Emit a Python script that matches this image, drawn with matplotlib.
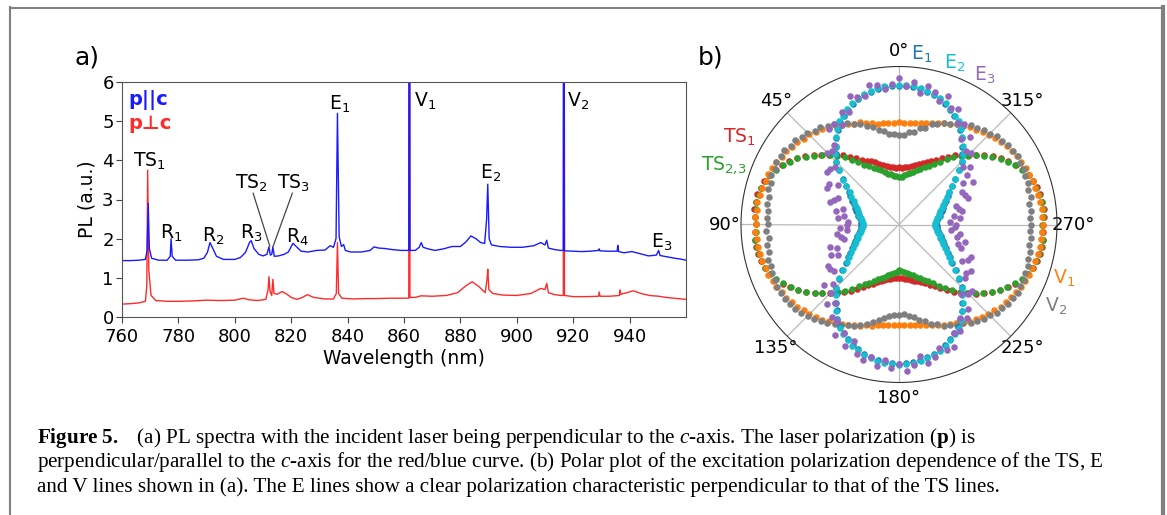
import numpy as np
import matplotlib.pyplot as plt
from matplotlib.lines import Line2D

plt.rcParams['font.family'] = 'DejaVu Sans'
plt.rcParams['mathtext.fontset'] = 'dejavusans'
plt.rcParams['mathtext.rm'] = 'Liberation Serif'
plt.rcParams['mathtext.it'] = 'Liberation Serif:italic'
plt.rcParams['mathtext.bf'] = 'Liberation Serif:bold'

# ---------------- data: PL spectra (a) ----------------
wl_par = [760, 763, 766, 768.3, 768.9, 769.3, 769.7, 770.5, 773, 776, 777.1, 777.4, 777.8, 779,
          783, 787, 789, 790.3, 791.2, 792, 793.5, 796, 800, 802, 803.8, 805.2, 805.8, 806.8,
          808.5, 810, 811.4, 812.1, 812.6, 813.1, 813.5, 814, 815.5, 817.5, 819, 820.6, 821.8,
          823.5, 826, 829, 832, 833.8, 835, 835.9, 836.4, 837, 837.8, 838.6, 839.2, 841, 845,
          848, 849.4, 851, 853, 856, 859, 861.7, 861.9, 862.1, 864, 865.4, 866.1, 866.8, 868.5,
          871, 874, 877, 880, 882, 883.7, 885.5, 887.2, 888.6, 889.3, 889.7, 890.2, 891, 894,
          898, 902, 906, 908.5, 910, 910.6, 911.2, 913.5, 915.6, 916.5, 916.7, 916.9, 920, 923,
          926, 929, 929.2, 929.5, 932, 935.6, 935.8, 936.1, 938, 940.8, 943.5, 946.7, 949.5,
          950.3, 950.8, 953, 956, 958, 960]
pl_par = [1.44, 1.44, 1.45, 1.47, 1.70, 2.90, 1.75, 1.50, 1.45, 1.45, 1.55, 2.00, 1.55, 1.45,
          1.45, 1.46, 1.50, 1.65, 1.90, 1.78, 1.55, 1.47, 1.47, 1.52, 1.65, 1.90, 1.95, 1.75,
          1.60, 1.56, 1.60, 1.79, 1.58, 1.60, 1.79, 1.55, 1.56, 1.60, 1.66, 1.88, 1.80,
          1.68, 1.66, 1.70, 1.71, 1.82, 1.78, 2.00, 5.20, 2.05, 1.80, 1.85, 1.70, 1.66, 1.66,
          1.70, 1.79, 1.76, 1.75, 1.72, 1.70, 1.70, 20.0, 1.70, 1.70, 1.78, 1.90, 1.78, 1.74,
          1.70, 1.74, 1.80, 1.80, 1.92, 2.07, 2.00, 1.90, 1.88, 2.50, 3.39, 2.00, 1.84, 1.80,
          1.78, 1.78, 1.82, 1.90, 1.84, 1.96, 1.76, 1.72, 1.70, 1.70, 20.0, 1.69, 1.68, 1.67,
          1.68, 1.70, 1.74, 1.69, 1.68, 1.68, 1.83, 1.67, 1.64, 1.67, 1.62, 1.56, 1.58,
          1.70, 1.57, 1.54, 1.50, 1.48, 1.45]

wl_perp = [760, 763, 766, 768.3, 768.8, 769.1, 769.5, 770.3, 772, 776, 780, 785, 790, 795, 800,
           803, 805, 808, 811, 811.8, 812.1, 812.5, 813.1, 813.5, 813.9, 815, 816.8, 818.5, 820,
           822, 824, 825.7, 828, 832, 835, 836, 836.4, 836.8, 838, 842, 846, 850, 855, 860,
           861.7, 861.9, 862.1, 864, 866, 870, 875, 879, 882, 884.2, 886.5, 888.8, 889.5, 889.7,
           890.1, 891.5, 895, 900, 905, 908.5, 910, 910.6, 911.2, 913.5, 915.6, 916.5, 916.7,
           916.9, 920, 925, 929, 929.2, 929.5, 933, 936.4, 936.6, 936.9, 939, 941.3, 944, 947,
           950.3, 953, 957, 960]
pl_perp = [0.33, 0.34, 0.36, 0.40, 0.80, 3.75, 1.20, 0.55, 0.42, 0.40, 0.40, 0.41, 0.43, 0.42, 0.43,
           0.48, 0.44, 0.42, 0.45, 0.70, 1.03, 0.65, 0.55, 0.96, 0.60, 0.58, 0.65, 0.58, 0.50,
           0.45, 0.50, 0.57, 0.50, 0.46, 0.46, 0.60, 1.90, 0.60, 0.48, 0.46, 0.47, 0.47, 0.48, 0.48,
           0.48, 20.0, 0.50, 0.50, 0.54, 0.53, 0.55, 0.62, 0.80, 0.90, 0.78, 0.62, 1.00, 1.22,
           0.70, 0.60, 0.56, 0.55, 0.60, 0.73, 0.70, 0.86, 0.62, 0.57, 0.55, 0.55, 20.0,
           0.55, 0.52, 0.52, 0.53, 0.64, 0.53, 0.53, 0.55, 0.69, 0.58, 0.62, 0.67, 0.60, 0.55,
           0.53, 0.50, 0.47, 0.45]

# ---------------- data: polar plot (b), 3 degree steps ----------------
angles_deg = np.arange(0, 360, 3)

ts1 = [.362, .358, .366, .371, .379, .392, .404, .421, .437, .452, .468, .502, .531, .563, .597,
       .624, .661, .694, .736, .768, .801, .829, .861, .878, .896, .904, .916, .919, .921, .914,
       .908, .913, .918, .917, .912, .902, .893, .876, .856, .826, .796, .765, .728, .688, .652,
       .617, .585, .553, .521, .489, .458, .430, .410, .392, .378, .365, .355, .347, .342, .340,
       .338, .341, .345, .350, .357, .368, .378, .392, .408, .427, .450, .482, .515, .550, .586,
       .616, .653, .690, .726, .764, .797, .827, .857, .876, .893, .903, .912, .918, .919, .913,
       .911, .916, .921, .918, .914, .906, .894, .881, .859, .831, .799, .772, .734, .696, .659,
       .626, .594, .566, .529, .501, .471, .449, .436, .419, .404, .392, .381, .369, .366, .361]
ts23 = [.298, .307, .311, .322, .329, .347, .361, .377, .393, .417, .438, .472, .508, .547, .582,
        .618, .653, .692, .728, .767, .793, .826, .853, .877, .888, .902, .908, .916, .913, .911,
        .903, .908, .914, .912, .907, .897, .889, .872, .851, .822, .792, .763, .727, .688, .652,
        .611, .576, .541, .506, .466, .436, .412, .392, .372, .357, .342, .327, .317, .306, .298,
        .289, .294, .302, .309, .319, .333, .349, .363, .383, .404, .429, .461, .498, .536, .573,
        .609, .648, .684, .724, .761, .791, .822, .851, .873, .887, .899, .907, .912, .914, .908,
        .906, .911, .916, .914, .909, .899, .891, .876, .854, .824, .796, .766, .731, .692, .657,
        .617, .582, .548, .512, .473, .442, .418, .397, .378, .362, .347, .333, .322, .312, .303]
v1 = [.648, .642, .647, .651, .653, .668, .673, .692, .698, .717, .728, .748, .758, .778, .788,
      .807, .813, .833, .838, .853, .858, .872, .878, .887, .888, .897, .898, .907, .903, .912,
      .908, .913, .903, .906, .897, .899, .887, .889, .876, .873, .856, .852, .836, .831, .811,
      .803, .786, .776, .756, .746, .726, .713, .697, .686, .671, .662, .651, .643, .640, .638,
      .635, .639, .637, .644, .648, .658, .667, .683, .693, .709, .722, .741, .753, .771, .784,
      .801, .809, .827, .834, .848, .855, .868, .876, .884, .886, .894, .897, .903, .904, .908,
      .911, .906, .909, .902, .901, .893, .891, .883, .881, .867, .862, .849, .843, .828, .816,
      .802, .791, .773, .762, .743, .732, .712, .702, .688, .677, .663, .656, .648, .646, .643]
v2 = [.566, .574, .578, .601, .611, .641, .656, .684, .697, .719, .727, .756, .767, .795, .798,
      .822, .826, .846, .847, .866, .861, .871, .862, .866, .851, .857, .842, .847, .831, .839,
      .832, .841, .829, .846, .838, .856, .849, .862, .858, .869, .862, .864, .853, .846, .836,
      .818, .803, .786, .772, .749, .733, .712, .703, .681, .663, .641, .621, .598, .584, .574,
      .571, .567, .583, .592, .618, .631, .663, .676, .703, .712, .734, .746, .773, .787, .803,
      .811, .834, .837, .853, .857, .868, .862, .868, .857, .858, .847, .848, .836, .838, .831,
      .838, .829, .843, .832, .851, .843, .858, .853, .866, .861, .868, .857, .851, .842, .833,
      .813, .806, .783, .776, .747, .736, .711, .706, .678, .667, .632, .626, .592, .587, .568]
e1 = [.878, .876, .872, .867, .858, .846, .833, .816, .794, .768, .748, .712, .676, .634, .598,
      .561, .514, .458, .418, .381, .358, .331, .313, .296, .283, .271, .263, .252, .244, .238,
      .234, .239, .243, .253, .262, .273, .281, .298, .311, .333, .355, .383, .414, .462, .512,
      .568, .596, .637, .672, .715, .746, .770, .791, .819, .831, .849, .857, .869, .874, .878,
      .881, .876, .873, .866, .859, .848, .832, .818, .794, .769, .747, .714, .673, .636, .596,
      .563, .511, .461, .415, .382, .356, .333, .311, .298, .281, .273, .261, .253, .242, .238,
      .233, .237, .244, .252, .263, .271, .283, .296, .313, .331, .357, .381, .417, .459, .514,
      .562, .597, .633, .675, .713, .749, .768, .794, .817, .833, .847, .859, .867, .872, .877]
e2 = [.885, .884, .879, .876, .866, .853, .842, .823, .802, .774, .757, .718, .682, .638, .602,
      .563, .512, .452, .412, .373, .352, .323, .307, .288, .276, .263, .256, .244, .236, .229,
      .226, .231, .235, .246, .254, .266, .274, .291, .304, .327, .348, .377, .408, .457, .508,
      .567, .598, .642, .678, .722, .753, .777, .798, .827, .838, .857, .864, .877, .881, .886,
      .889, .883, .881, .874, .867, .855, .839, .826, .801, .776, .754, .721, .679, .641, .599,
      .566, .509, .456, .409, .376, .349, .326, .304, .291, .274, .266, .254, .246, .234, .231,
      .225, .229, .236, .245, .256, .264, .276, .289, .306, .324, .351, .374, .411, .454, .511,
      .564, .601, .639, .681, .719, .756, .774, .801, .824, .841, .854, .866, .874, .879, .884]
e3 = [.925, .89, .865, .895, .905, .84, .85, .87, .78, .80, .725, .755, .75, .65, .63,
      .64, .545, .56, .565, .46, .51, .51, .42, .44, .46, .37, .405, .35, .39, .325,
      .33, .375, .33, .40, .375, .36, .46, .42, .47, .43, .52, .52, .505, .61, .565,
      .61, .68, .64, .72, .725, .805, .77, .84, .79, .86, .89, .855, .905, .865, .91,
      .885, .93, .895, .845, .895, .87, .82, .85, .85, .77, .775, .705, .73, .69, .59,
      .62, .625, .54, .525, .54, .46, .49, .50, .42, .39, .43, .375, .39, .33, .355,
      .36, .325, .39, .35, .405, .39, .38, .47, .46, .45, .54, .48, .535, .58, .545,
      .64, .63, .71, .67, .755, .745, .82, .81, .87, .82, .87, .895, .845, .905, .88]

W, H = 1167, 515
fig = plt.figure(figsize=(W / 100, H / 100), dpi=100)


def fx(x):
    return x / W


def fy(y):
    return 1 - y / H


# ---------------- panel a ----------------
ax = fig.add_axes([fx(122), fy(317), (686 - 122) / W, (317 - 82) / H])
ax.plot(wl_perp, pl_perp, color='#ff2a2a', lw=1.0)
ax.plot(wl_par, pl_par, color='#1a1aff', lw=1.0)
ax.set_xlim(760, 960)
ax.set_ylim(0, 6)
ax.set_xticks(range(760, 941, 20))
ax.set_yticks(range(0, 7))
ax.tick_params(labelsize=13, length=4, color='#444444')
ax.tick_params(axis='x', pad=4)
ax.tick_params(axis='y', pad=2)
for s in ax.spines.values():
    s.set_color('#555555')
ax.set_xlabel('Wavelength (nm)', fontsize=13.5, labelpad=2)
ax.set_ylabel('PL (a.u.)', fontsize=13.5, labelpad=4)

ax.text(0.012, 0.965, 'p||c', color='#1a1aff', fontsize=14, fontweight='bold',
        transform=ax.transAxes, va='top')
ax.text(0.012, 0.865, 'p\u22a5c', color='#ff2a2a', fontsize=14, fontweight='bold',
        transform=ax.transAxes, va='top')

peak_labels = [('TS$_1$', 769.6, 3.98), ('R$_1$', 777.6, 2.14), ('R$_2$', 792.3, 2.07),
               ('R$_3$', 806.0, 2.14), ('TS$_2$', 806.0, 3.42), ('TS$_3$', 820.9, 3.42),
               ('R$_4$', 822.3, 2.04), ('E$_1$', 837.2, 5.42), ('V$_1$', 867.3, 5.51),
               ('V$_2$', 921.7, 5.51), ('E$_2$', 890.6, 3.66), ('E$_3$', 951.2, 1.90)]
for lab, x, y in peak_labels:
    ax.text(x, y, lab, fontsize=13.5, ha='center', va='center')
ax.plot([806.5, 812.4], [3.16, 1.81], color='#444444', lw=0.9)
ax.plot([820.4, 813.6], [3.16, 1.81], color='#444444', lw=0.9)

fig.text(fx(74), fy(65), 'a)', fontsize=18, va='baseline')
fig.text(fx(698), fy(65), 'b)', fontsize=18, va='baseline')

# ---------------- panel b ----------------
pax = fig.add_axes([fx(741), fy(382.5), 316 / W, 316 / H], projection='polar')
pax.set_theta_zero_location('N')
pax.set_theta_direction(1)
pax.set_ylim(0, 1)
pax.set_yticks([])
pax.set_thetagrids(range(0, 360, 45), [f'{a}\u00b0' for a in range(0, 360, 45)])
pax.tick_params(labelsize=13, pad=1)
pax.grid(True, color='#bbbbbb', lw=0.9)
pax.spines['polar'].set_color('#333333')

th = np.deg2rad(angles_deg)
series = [(ts1, '#d62728'), (ts23, '#2ca02c'), (v1, '#ff7f0e'), (v2, '#7f7f7f'),
          (e1, '#1f77b4'), (e2, '#17becf'), (e3, '#9467bd')]
for r, c in series:
    pax.scatter(th, r, s=22, color=c, linewidths=0, zorder=3, clip_on=False)

series_labels = [('E$_1$', '#1f77b4', 922, 54), ('E$_2$', '#17becf', 955, 63),
                 ('E$_3$', '#9467bd', 985, 75), ('TS$_1$', '#d62728', 739, 137),
                 ('TS$_{2{,}3}$', '#2ca02c', 724, 165), ('V$_1$', '#ff7f0e', 1064, 278),
                 ('V$_2$', '#7f7f7f', 1056, 306)]
for lab, c, x, y in series_labels:
    fig.text(fx(x), fy(y), lab, color=c, fontsize=13.5, ha='center', va='center')

# ---------------- frame and caption ----------------
gray = '#808080'
fig.add_artist(Line2D([fx(9.5), fx(9.5)], [fy(7), 0], color=gray, lw=1.5,
                      transform=fig.transFigure))
fig.add_artist(Line2D([fx(9.5), fx(1163)], [fy(7.5), fy(7.5)], color=gray, lw=1.5,
                      transform=fig.transFigure))
fig.add_artist(Line2D([fx(1162.5), fx(1162.5)], [fy(7), 0], color=gray, lw=3,
                      transform=fig.transFigure))

cap = [r'$\mathbf{Figure\ 5.}$   (a) PL spectra with the incident laser being perpendicular to the '
       r'$\mathit{c}$-axis. The laser polarization ($\mathbf{p}$) is',
       r'perpendicular/parallel to the $\mathit{c}$-axis for the red/blue curve. (b) Polar plot of the '
       r'excitation polarization dependence of the TS, E',
       r'and V lines shown in (a). The E lines show a clear polarization characteristic '
       r'perpendicular to that of the TS lines.']
for i, line in enumerate(cap):
    fig.text(fx(37), fy(443 + 24.5 * i), line, family='Liberation Serif', fontsize=15.2,
             math_fontfamily='custom', va='baseline')

fig.savefig('out.png', dpi=100)
